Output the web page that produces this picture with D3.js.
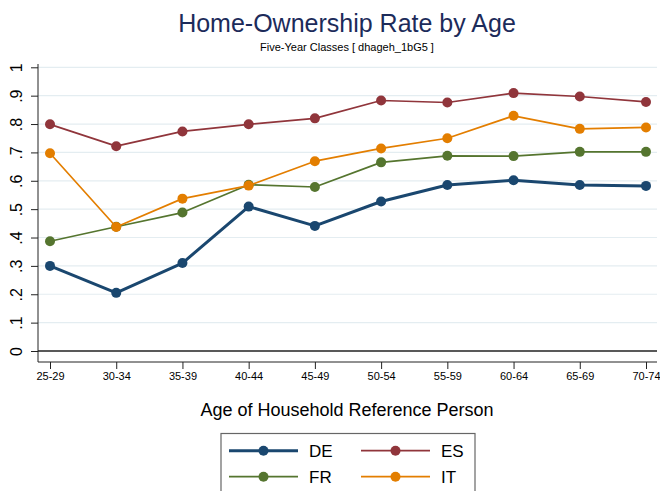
<!DOCTYPE html>
<html>
<head>
<meta charset="utf-8">
<script src="https://cdn.jsdelivr.net/npm/d3@7"></script>
<style>
  html, body { margin: 0; padding: 0; background: #ffffff; }
  svg { display: block; font-family: "Liberation Sans", Arial, Helvetica, sans-serif; }
</style>
</head>
<body>
<svg id="chart" width="660" height="491"></svg>
<script>
// Age classes of the household reference person
const ageClasses = ["25-29", "30-34", "35-39", "40-44", "45-49", "50-54", "55-59", "60-64", "65-69", "70-74"];

// Home-ownership rate by country
const valuesDE = [0.300, 0.205, 0.310, 0.509, 0.441, 0.527, 0.585, 0.602, 0.585, 0.582];
const valuesES = [0.799, 0.722, 0.774, 0.799, 0.820, 0.883, 0.876, 0.909, 0.897, 0.878];
const valuesFR = [0.387, 0.438, 0.488, 0.586, 0.578, 0.665, 0.688, 0.687, 0.702, 0.702];
const valuesIT = [0.697, 0.437, 0.537, 0.583, 0.669, 0.714, 0.750, 0.829, 0.783, 0.788];

const yTickValues = [0, 0.1, 0.2, 0.3, 0.4, 0.5, 0.6, 0.7, 0.8, 0.9, 1];
const yTickLabels = ["0", ".1", ".2", ".3", ".4", ".5", ".6", ".7", ".8", ".9", "1"];

const series = [
  { name: "DE", values: valuesDE, color: "#1a476f", width: 3 },
  { name: "ES", values: valuesES, color: "#90353b", width: 1.7 },
  { name: "FR", values: valuesFR, color: "#55752f", width: 1.7 },
  { name: "IT", values: valuesIT, color: "#e37e00", width: 1.7 }
];

const svg = d3.select("#chart");

// plot region
const plot = { left: 38, right: 657, top: 64, bottom: 362 };

const x = d3.scalePoint().domain(ageClasses).range([50, 646]);
const y = d3.scaleLinear().domain([0, 1]).range([351, 67.3]);

// horizontal grid
svg.append("g")
  .selectAll("line")
  .data(yTickValues.filter(v => v > 0))
  .join("line")
  .attr("x1", plot.left).attr("x2", plot.right)
  .attr("y1", d => y(d)).attr("y2", d => y(d))
  .attr("stroke", "#e4edf1").attr("stroke-width", 1.2);

// zero reference line
svg.append("line")
  .attr("x1", plot.left).attr("x2", plot.right)
  .attr("y1", y(0)).attr("y2", y(0))
  .attr("stroke", "#222").attr("stroke-width", 1.6);

// y axis
const yAxis = d3.axisLeft(y)
  .tickValues(yTickValues)
  .tickFormat((d, i) => yTickLabels[i])
  .tickSize(7)
  .tickSizeOuter(0);
const gy = svg.append("g").attr("transform", `translate(${plot.left},0)`).call(yAxis);
gy.select(".domain").attr("d", `M0,${plot.top}V${plot.bottom}`).attr("stroke", "#222");
gy.selectAll(".tick line").attr("stroke", "#222");
gy.selectAll(".tick text")
  .attr("font-size", 16)
  .attr("fill", "#000")
  .attr("text-anchor", "middle")
  .attr("x", 0).attr("dy", 0)
  .attr("transform", "translate(-22,0) rotate(-90)")
  .attr("dominant-baseline", "central");

// x axis
const xAxis = d3.axisBottom(x).tickSize(7).tickSizeOuter(0);
const gx = svg.append("g").attr("transform", `translate(0,${plot.bottom})`).call(xAxis);
gx.select(".domain").attr("d", `M${plot.left},0H${plot.right}`).attr("stroke", "#222");
gx.selectAll(".tick line").attr("stroke", "#222");
gx.selectAll(".tick text").attr("font-size", 11).attr("fill", "#000").attr("y", 10).attr("dy", "0.71em");

// series lines and markers
const line = d3.line().x((d, i) => x(ageClasses[i])).y(d => y(d));
series.forEach(s => {
  svg.append("path")
    .datum(s.values)
    .attr("d", line)
    .attr("fill", "none")
    .attr("stroke", s.color)
    .attr("stroke-width", s.width)
    .attr("stroke-linejoin", "round");
  svg.append("g")
    .selectAll("circle")
    .data(s.values)
    .join("circle")
    .attr("cx", (d, i) => x(ageClasses[i]))
    .attr("cy", d => y(d))
    .attr("r", 5)
    .attr("fill", s.color);
});

// titles
svg.append("text")
  .attr("x", 347).attr("y", 32)
  .attr("text-anchor", "middle")
  .attr("font-size", 25)
  .attr("fill", "#1c2b5a")
  .text("Home-Ownership Rate by Age");
svg.append("text")
  .attr("x", 347).attr("y", 51)
  .attr("text-anchor", "middle")
  .attr("font-size", 11)
  .attr("fill", "#000")
  .text("Five-Year Classes [ dhageh_1bG5 ]");

// x axis title
svg.append("text")
  .attr("x", 347).attr("y", 416)
  .attr("text-anchor", "middle")
  .attr("font-size", 18)
  .attr("fill", "#000")
  .text("Age of Household Reference Person");

// legend
const legend = svg.append("g");
legend.append("rect")
  .attr("x", 221).attr("y", 433.5)
  .attr("width", 254).attr("height", 70)
  .attr("fill", "#fff").attr("stroke", "#666").attr("stroke-width", 1.2);
const legendPos = [
  { s: series[0], lx: 229, ly: 450.7 },
  { s: series[1], lx: 361, ly: 450.7 },
  { s: series[2], lx: 229, ly: 476.7 },
  { s: series[3], lx: 361, ly: 476.7 }
];
legendPos.forEach(p => {
  legend.append("line")
    .attr("x1", p.lx).attr("x2", p.lx + 69)
    .attr("y1", p.ly).attr("y2", p.ly)
    .attr("stroke", p.s.color).attr("stroke-width", p.s.width);
  legend.append("circle")
    .attr("cx", p.lx + 34.5).attr("cy", p.ly).attr("r", 5)
    .attr("fill", p.s.color);
  legend.append("text")
    .attr("x", p.lx + 80).attr("y", p.ly)
    .attr("dy", "0.36em")
    .attr("font-size", 17)
    .attr("fill", "#000")
    .text(p.s.name);
});
</script>
</body>
</html>
